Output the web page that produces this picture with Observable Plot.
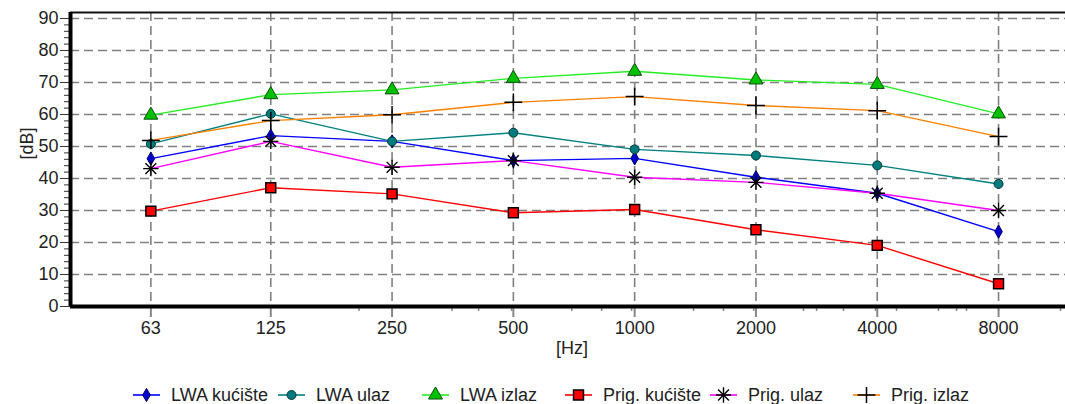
<!DOCTYPE html>
<html>
<head>
<meta charset="utf-8">
<script src="https://cdn.jsdelivr.net/npm/d3@7"></script>
<script src="https://cdn.jsdelivr.net/npm/@observablehq/plot@0.6"></script>
<style>
  html, body { margin: 0; padding: 0; background: #fff; }
  #wrap { position: relative; width: 1065px; height: 404px; overflow: hidden; font-family: "Liberation Sans", Arial, sans-serif; }
  #legend { position: absolute; left: 0; top: 384px; width: 1065px; height: 22px; }
  .item { position: absolute; top: 0; height: 22px; display: flex; align-items: center; font-size: 18px; color: #222; white-space: nowrap; }
  .item svg { margin-right: 11px; }
</style>
</head>
<body>
<div id="wrap">
  <div id="chart"></div>
  <div id="legend"></div>
</div>
<script>
// ---- data ----
const freqs = [63, 125, 250, 500, 1000, 2000, 4000, 8000];
const seriesNames = ["LWA kućište", "LWA ulaz", "LWA izlaz", "Prig. kućište", "Prig. ulaz", "Prig. izlaz"];
const lwaKuciste  = [46.2, 53.4, 51.6, 45.6, 46.3, 40.4, 35.4, 23.4];
const lwaUlaz     = [50.8, 60.2, 51.6, 54.3, 49.1, 47.2, 44.1, 38.3];
const lwaIzlaz    = [59.8, 66.2, 67.7, 71.3, 73.5, 70.8, 69.4, 60.2];
const prigKuciste = [29.8, 37.1, 35.2, 29.3, 30.3, 24.0, 19.1, 7.1];
const prigUlaz    = [43.1, 51.6, 43.5, 45.6, 40.4, 38.8, 35.4, 30.0];
const prigIzlaz   = [51.9, 58.1, 59.9, 63.8, 65.6, 62.8, 61.2, 53.1];
const yTicks = [0, 10, 20, 30, 40, 50, 60, 70, 80, 90];
const xTickLabels = ["63", "125", "250", "500", "1000", "2000", "4000", "8000"];
const xMinorTicks = [207, 352, 410, 495, 698, 828, 983, 1400, 1662, 1974, 2625, 2828, 3299, 3960, 4465, 5676, 6293, 6660, 8000, 11397];

const seriesValues = [lwaKuciste, lwaUlaz, lwaIzlaz, prigKuciste, prigUlaz, prigIzlaz];
const lineColors = ["#0000ff", "#008080", "#22ee22", "#ff0000", "#ff00ff", "#ff8000"];
const markerStyles = [
  {symbol: "diamond", r: 4, fill: "#0000cc", stroke: "#000066", strokeWidth: 1},
  {symbol: "circle", r: 4.5, fill: "#007a7a", stroke: "#003a3a", strokeWidth: 1},
  {symbol: "triangle", r: 5.2, fill: "#00c000", stroke: "#105010", strokeWidth: 1},
  {symbol: "square", r: 5.6, fill: "#ff0000", stroke: "#000000", strokeWidth: 1.5},
  {symbol: "asterisk8", r: 5, fill: "none", stroke: "#000000", strokeWidth: 1.4},
  {symbol: "plus", r: 5.8, fill: "none", stroke: "#000000", strokeWidth: 1.5}
];

const data = seriesNames.flatMap((name, i) => freqs.map((f, j) => ({name, f, v: seriesValues[i][j]})));
const tickRows = freqs.map((f, i) => ({f, label: xTickLabels[i]}));

const xDomain = [39.8, 11729];
const yDomain = [0, 91.875];
const gridStyle = {stroke: "#808080", strokeOpacity: 1, strokeDasharray: "9,5", strokeWidth: 1.6};

function dotMarks(i) {
  const m = markerStyles[i];
  const rows = data.filter(d => d.name === seriesNames[i]);
  if (m.symbol === "asterisk8") {
    return [
      Plot.dot(rows, {x: "f", y: "v", symbol: "plus", r: m.r, stroke: m.stroke, strokeWidth: m.strokeWidth}),
      Plot.dot(rows, {x: "f", y: "v", symbol: "times", r: m.r, stroke: m.stroke, strokeWidth: m.strokeWidth})
    ];
  }
  if (m.fill === "none") {
    return [Plot.dot(rows, {x: "f", y: "v", symbol: m.symbol, r: m.r, stroke: m.stroke, strokeWidth: m.strokeWidth})];
  }
  return [Plot.dot(rows, {x: "f", y: "v", symbol: m.symbol, r: m.r, fill: m.fill, stroke: m.stroke, strokeWidth: m.strokeWidth})];
}

const chart = Plot.plot({
  width: 1065,
  height: 404,
  marginLeft: 70,
  marginRight: 0,
  marginTop: 12,
  marginBottom: 98,
  style: {fontFamily: "'Liberation Sans', Arial, sans-serif", fontSize: "18px", color: "#222", background: "white"},
  x: {type: "log", domain: xDomain, label: null},
  y: {domain: yDomain, label: null},
  color: {domain: seriesNames, range: lineColors},
  marks: [
    Plot.gridY({ticks: yTicks.filter(t => t > 0), ...gridStyle}),
    Plot.gridX({ticks: freqs, ...gridStyle}),
    Plot.axisY({ticks: d3.range(0, 91, 2), tickSize: 6, text: null, stroke: "#333"}),
    Plot.axisY({ticks: yTicks, tickSize: 10, tickPadding: 2, stroke: "#333", fontSize: 18}),
    Plot.axisX({ticks: xMinorTicks, tickSize: 5, text: null, stroke: "#888", strokeWidth: 1.5}),
    Plot.axisX({ticks: freqs, tickSize: 11, text: null, stroke: "#888", strokeWidth: 2}),
    Plot.text(tickRows, {x: "f", text: "label", frameAnchor: "bottom", dy: 27, fontSize: 18, fill: "#222"}),
    Plot.line(data, {x: "f", y: "v", z: "name", stroke: "name", strokeWidth: 1.4}),
    ...seriesNames.flatMap((_, i) => dotMarks(i)),
    Plot.ruleY([yDomain[1]], {stroke: "#111", strokeWidth: 2.2}),
    Plot.ruleY([0], {stroke: "#000", strokeWidth: 4}),
    Plot.ruleX([xDomain[0]], {stroke: "#000", strokeWidth: 4}),
    Plot.text(["[dB]"], {frameAnchor: "left", dx: -43, rotate: -90, fontSize: 18, fill: "#222"}),
    Plot.text(["[Hz]"], {frameAnchor: "bottom", dx: 4, dy: 47, fontSize: 18, fill: "#222"})
  ]
});
document.getElementById("chart").appendChild(chart);

// ---- legend ----
const legendLeft = [133, 278, 422, 565, 710, 853];
const legend = d3.select("#legend");
const symMap = {diamond: d3.symbolDiamond, circle: d3.symbolCircle, triangle: d3.symbolTriangle, square: d3.symbolSquare, plus: d3.symbolPlus, times: d3.symbolTimes};
seriesNames.forEach((name, i) => {
  const m = markerStyles[i];
  const item = legend.append("div").attr("class", "item").style("left", legendLeft[i] + "px");
  const svg = item.append("svg").attr("width", 27).attr("height", 16);
  svg.append("line").attr("x1", 0).attr("x2", 27).attr("y1", 8).attr("y2", 8).attr("stroke", lineColors[i]).attr("stroke-width", 1.6);
  const size = Math.PI * m.r * m.r;
  const syms = m.symbol === "asterisk8" ? ["plus", "times"] : [m.symbol];
  syms.forEach(s => {
    svg.append("path")
      .attr("transform", "translate(13.5,8)")
      .attr("d", d3.symbol(symMap[s], size)())
      .attr("fill", m.fill)
      .attr("stroke", m.stroke)
      .attr("stroke-width", m.strokeWidth);
  });
  item.append("span").text(name);
});
</script>
</body>
</html>
